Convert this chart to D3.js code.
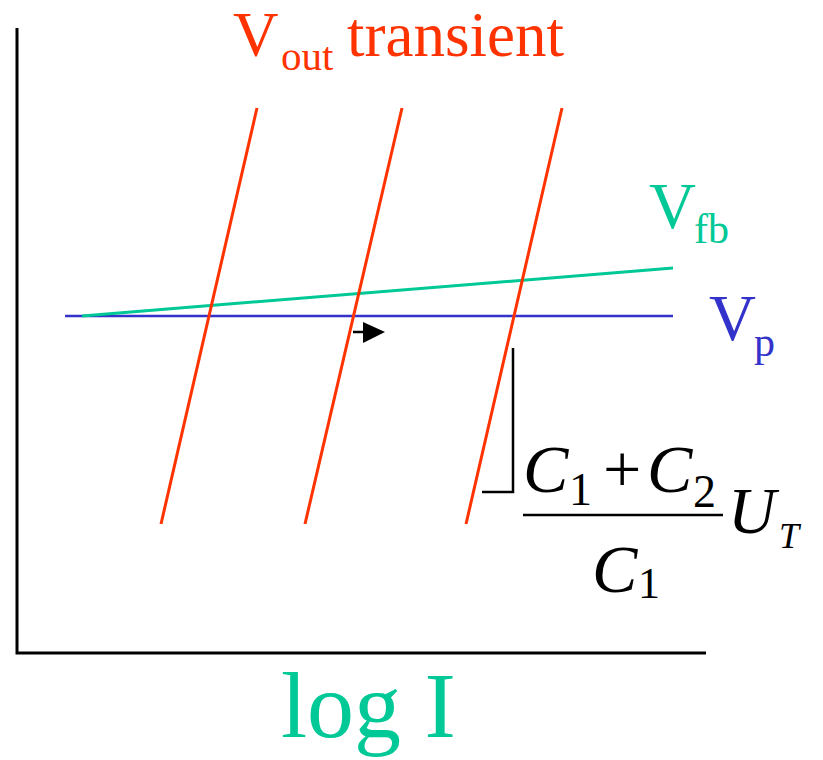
<!DOCTYPE html>
<html>
<head>
<meta charset="utf-8">
<script src="https://cdn.jsdelivr.net/npm/d3@7/dist/d3.min.js"></script>
<style>
  html, body { margin: 0; padding: 0; background: #fff; }
  svg { display: block; }
  text { font-family: "Liberation Serif", "Times New Roman", serif; }
</style>
</head>
<body>
<script>
// Axis domains (arbitrary units: log I horizontally, voltage vertically)
const logIDomain = [0, 10];
const voltDomain = [0, 10];

// Vout transient lines: each runs from a low point to a high point
const transientBottomX = [2.09, 4.18, 6.517];
const transientTopX = [3.483, 5.588, 7.91];
const transientBottomV = 2.064;
const transientTopV = 8.72;

// Vp: flat reference level
const vpX = [0.697, 9.521];
const vpV = [5.392, 5.392];

// Vfb: slowly rising feedback level
const vfbX = [0.943, 9.521];
const vfbV = [5.392, 6.16];

const W = 823, H = 760;
const x = d3.scaleLinear().domain(logIDomain).range([17, 706]);
const y = d3.scaleLinear().domain(voltDomain).range([653, 28]);

const RED = "#ff3300", GREEN = "#00c896", BLUE = "#3333cc";

const svg = d3.select("body").append("svg").attr("width", W).attr("height", H);

// Axes: plain L-shaped frame without ticks
svg.append("path")
  .attr("d", d3.line()([[x(0), y(10)], [x(0), y(0)], [x(10), y(0)]]))
  .attr("fill", "none").attr("stroke", "#000").attr("stroke-width", 3);

const line = d3.line().x(d => x(d[0])).y(d => y(d[1]));

// Vp and Vfb
svg.append("path")
  .attr("d", line(vpX.map((v, i) => [v, vpV[i]])))
  .attr("stroke", BLUE).attr("stroke-width", 2.5).attr("fill", "none");
svg.append("path")
  .attr("d", line(vfbX.map((v, i) => [v, vfbV[i]])))
  .attr("stroke", GREEN).attr("stroke-width", 3).attr("fill", "none");

// Transients
svg.selectAll("path.transient")
  .data(transientBottomX.map((b, i) => [[b, transientBottomV], [transientTopX[i], transientTopV]]))
  .join("path")
  .attr("class", "transient")
  .attr("d", line)
  .attr("stroke", RED).attr("stroke-width", 3).attr("fill", "none");

// Small arrow showing drift direction
svg.append("line")
  .attr("x1", 353).attr("y1", 332).attr("x2", 364).attr("y2", 332)
  .attr("stroke", "#000").attr("stroke-width", 2.5);
svg.append("path")
  .attr("d", "M363,322 L385,332 L363,343 Z")
  .attr("fill", "#000");

// Bracket marking the step height
svg.append("path")
  .attr("d", "M513,348 L513,492 L482,492")
  .attr("fill", "none").attr("stroke", "#000").attr("stroke-width", 2.5);

function label(tx, ty, str, size, color, opts = {}) {
  return svg.append("text")
    .attr("x", tx).attr("y", ty)
    .attr("font-size", size)
    .attr("fill", color)
    .attr("font-style", opts.italic ? "italic" : "normal")
    .attr("font-weight", opts.bold ? "bold" : "normal")
    .attr("text-anchor", opts.anchor || "start")
    .text(str);
}

// Title
label(233, 56, "V", 63, RED);
label(281, 70, "out", 41, RED);
label(347, 56, "transient", 63, RED);

// Series labels
label(649, 228, "V", 65, GREEN);
label(694, 243, "fb", 42, GREEN);
label(709, 340, "V", 65, BLUE);
label(754, 356, "p", 42, BLUE);

// Horizontal axis title
label(281, 737, "log I", 94, GREEN);

// Step size: (C1 + C2) / C1 · UT
const I = { italic: true };
label(523, 492, "C", 68, "#000", I);
label(569, 505, "1", 46, "#000");
label(603, 492, "+", 68, "#000");
label(647, 492, "C", 68, "#000", I);
label(693, 507, "2", 46, "#000");
svg.append("line")
  .attr("x1", 523).attr("x2", 723).attr("y1", 515).attr("y2", 515)
  .attr("stroke", "#000").attr("stroke-width", 2.5);
label(592, 592, "C", 68, "#000", I);
label(638, 598, "1", 44, "#000");
label(728, 533, "U", 66, "#000", I);
label(779, 548, "T", 36, "#000", I);
</script>
</body>
</html>
